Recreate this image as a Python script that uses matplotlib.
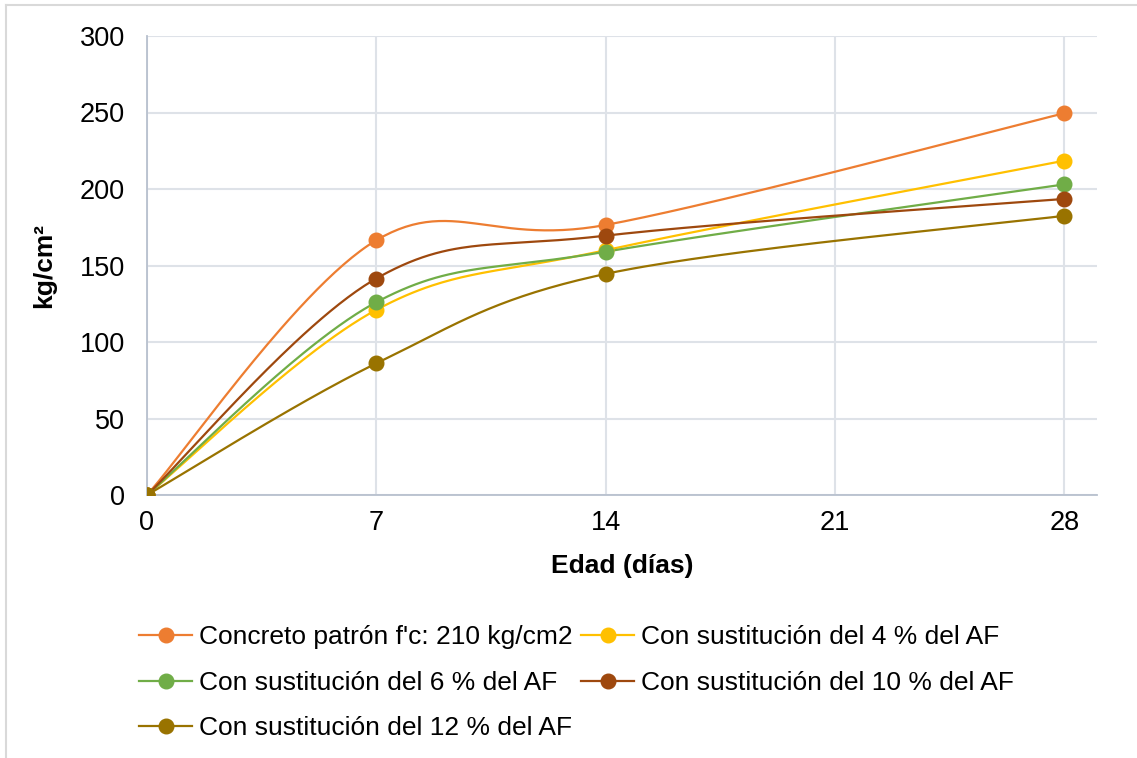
import numpy as np
import matplotlib.pyplot as plt
from matplotlib.lines import Line2D

plt.rcParams['font.family'] = ['Liberation Sans', 'DejaVu Sans']

dias = [0, 7, 14, 28]
patron = [0, 166.5, 176.5, 249.5]
sust_4 = [0, 121, 160, 218.5]
sust_6 = [0, 126, 159, 203]
sust_10 = [0, 141.5, 169.5, 193.5]
sust_12 = [0, 86, 144.5, 182.5]

nombres = ["Concreto patrón f'c: 210 kg/cm2",
           "Con sustitución del 4 % del AF",
           "Con sustitución del 6 % del AF",
           "Con sustitución del 10 % del AF",
           "Con sustitución del 12 % del AF"]
colores = ['#ED7D31', '#FFC000', '#70AD47', '#9E480E', '#997300']
xticks = [0, 7, 14, 21, 28]
yticks = [0, 50, 100, 150, 200, 250, 300]


def suavizar(x, y, n=60):
    # curva suavizada tipo Excel: bezier cubica con tangentes de Catmull-Rom (1/6)
    p = np.column_stack([x, y]).astype(float)
    k = len(p)
    xs, ys = [], []
    for i in range(k - 1):
        p0 = p[max(i - 1, 0)]
        p1 = p[i]
        p2 = p[i + 1]
        p3 = p[min(i + 2, k - 1)]
        c1 = p1 + (p2 - p0) / 6.0
        c2 = p2 - (p3 - p1) / 6.0
        t = np.linspace(0, 1, n)[:, None]
        b = ((1 - t) ** 3) * p1 + 3 * ((1 - t) ** 2) * t * c1 + 3 * (1 - t) * t ** 2 * c2 + t ** 3 * p2
        xs.extend(b[:, 0])
        ys.extend(b[:, 1])
    return np.array(xs), np.array(ys)


fig = plt.figure(figsize=(11.37, 7.58), dpi=100)
ax = fig.add_axes([147 / 1137, 1 - 495 / 758, 950 / 1137, 459 / 758])

handles = []
for serie, nombre, color in zip([patron, sust_4, sust_6, sust_10, sust_12], nombres, colores):
    xs, ys = suavizar(dias, serie)
    ax.plot(xs, ys, color=color, lw=1.6, zorder=3)
    ax.plot(dias, serie, 'o', color=color, ms=10.5, mec=color, zorder=4)
    handles.append(Line2D([], [], color=color, lw=1.6, marker='o', ms=10.5, mec=color))

ax.set_xlim(0, 29)
ax.set_ylim(0, 300)
ax.set_xticks(xticks)
ax.set_yticks(yticks)
ax.grid(True, color='#DEE2E8', lw=1.5, zorder=0)
ax.set_axisbelow(True)
for s in ['top', 'right']:
    ax.spines[s].set_visible(False)
for s in ['left', 'bottom']:
    ax.spines[s].set_color('#B8C0CE')
    ax.spines[s].set_linewidth(1.3)
ax.tick_params(axis='both', length=0, labelsize=19.5)
ax.tick_params(axis='y', pad=16)
ax.tick_params(axis='x', pad=11)

ax.set_xlabel('Edad (días)', fontsize=19, fontweight='bold', labelpad=13)
ax.set_ylabel('kg/cm²', fontsize=19, fontweight='bold', labelpad=17)

# leyenda en filas de dos: matplotlib llena por columnas, asi que se reordena
orden = [0, 2, 4, 1, 3]
fig.legend(handles=[handles[i] for i in orden], labels=[nombres[i] for i in orden],
           ncol=2, loc='upper left',
           bbox_to_anchor=(126 / 1137, 1 - 612 / 758), frameon=False,
           fontsize=19, handlelength=2.0, handletextpad=0.25,
           columnspacing=0.35, labelspacing=0.82, borderpad=0)

# marco exterior del grafico
fig.add_artist(Line2D([6 / 1137, 1], [1 - 5 / 758, 1 - 5 / 758], color='#D9D9D9', lw=1.5))
fig.add_artist(Line2D([6 / 1137, 6 / 1137], [0, 1 - 5 / 758], color='#D9D9D9', lw=1.5))

fig.savefig('out.png', dpi=100)
